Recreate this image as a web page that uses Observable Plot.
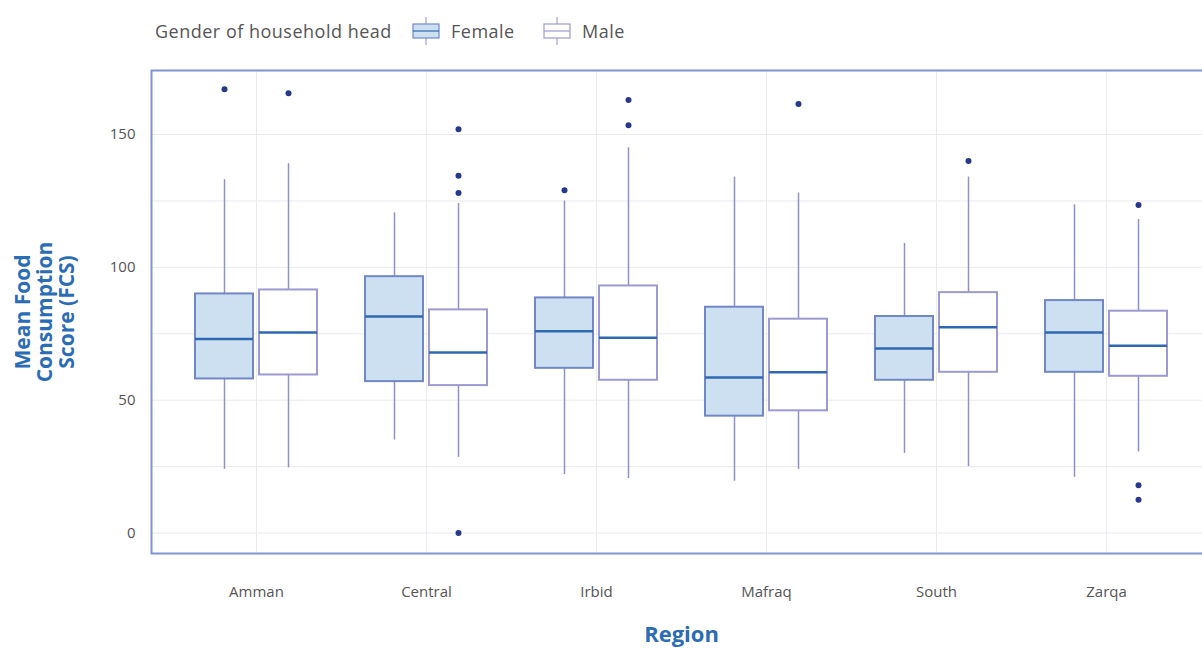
<!DOCTYPE html>
<html>
<head>
<meta charset="utf-8">
<script src="https://cdn.jsdelivr.net/npm/d3@7"></script>
<script src="https://cdn.jsdelivr.net/npm/@observablehq/plot@0.6"></script>
<style>
  html, body { margin: 0; padding: 0; background: #fff; overflow: hidden; }
  body { width: 1202px; height: 648px; font-family: "Open Sans", sans-serif; }
  #legend { position: relative; height: 55px; }
  #legend .item { position: absolute; top: 17px; display: flex; align-items: center; font-size: 18px; letter-spacing: 0.5px; color: #555; height: 28px; }
  #legend svg { display: block; }
</style>
</head>
<body>
<div id="legend"></div>
<div id="chart"></div>
<script>
// ---- data ----
const regions = ["Amman", "Central", "Irbid", "Mafraq", "South", "Zarqa"];
const genders = ["Female", "Male"];

// five-number summaries per region (lower whisker, Q1, median, Q3, upper whisker)
const femaleLow    = [24.0, 35.0, 22.0, 19.5, 30.0, 21.0];
const femaleQ1     = [58.0, 57.0, 62.0, 44.0, 57.5, 60.5];
const femaleMedian = [73.0, 81.5, 76.0, 58.5, 69.5, 75.5];
const femaleQ3     = [90.0, 96.5, 88.5, 85.0, 81.5, 87.5];
const femaleHigh   = [133.0, 120.5, 125.0, 134.0, 109.0, 123.5];

const maleLow    = [24.5, 28.5, 20.5, 24.0, 25.0, 30.5];
const maleQ1     = [59.5, 55.5, 57.5, 46.0, 60.5, 59.0];
const maleMedian = [75.5, 68.0, 73.5, 60.5, 77.5, 70.5];
const maleQ3     = [91.5, 84.0, 93.0, 80.5, 90.5, 83.5];
const maleHigh   = [139.0, 124.0, 145.0, 128.0, 134.0, 118.0];

// outliers
const outlierRegion = ["Amman", "Irbid", "Amman", "Central", "Central", "Central", "Central", "Irbid", "Irbid", "Mafraq", "South", "Zarqa", "Zarqa", "Zarqa"];
const outlierGender = ["Female", "Female", "Male", "Male", "Male", "Male", "Male", "Male", "Male", "Male", "Male", "Male", "Male", "Male"];
const outlierValue  = [167, 129, 165.5, 152, 134.5, 128, 0, 163, 153.5, 161.5, 140, 123.5, 18, 12.5];

const yTicks = [0, 50, 100, 150];
const yGrid = [0, 25, 50, 75, 100, 125, 150];

// ---- tables built from the arrays ----
const summary = [];
regions.forEach((r, i) => {
  summary.push({region: r, gender: "Female", lo: femaleLow[i], q1: femaleQ1[i], med: femaleMedian[i], q3: femaleQ3[i], hi: femaleHigh[i]});
  summary.push({region: r, gender: "Male", lo: maleLow[i], q1: maleQ1[i], med: maleMedian[i], q3: maleQ3[i], hi: maleHigh[i]});
});
const outliers = outlierValue.map((v, i) => ({region: outlierRegion[i], gender: outlierGender[i], value: v}));

// ---- styles ----
const style = {
  Female: {fill: "#cde0f2", stroke: "#7287c6", dx: -32},
  Male:   {fill: "#ffffff", stroke: "#9c9ad0", dx: 32}
};
const whiskerColor = "#8f90c8";
const medianColor = "#2f69b2";
const dotColor = "#27388a";
const titleColor = "#2b6cb5";

function boxMarks(g) {
  const s = style[g];
  const d = summary.filter(e => e.gender === g);
  const o = outliers.filter(e => e.gender === g);
  return [
    Plot.ruleX(d, {x: "region", y1: "lo", y2: "q1", dx: s.dx, stroke: whiskerColor, strokeWidth: 1.5}),
    Plot.ruleX(d, {x: "region", y1: "q3", y2: "hi", dx: s.dx, stroke: whiskerColor, strokeWidth: 1.5}),
    Plot.barY(d, {x: "region", y1: "q1", y2: "q3", dx: s.dx, fill: s.fill, stroke: s.stroke, strokeWidth: 2}),
    Plot.tickY(d, {x: "region", y: "med", dx: s.dx, stroke: medianColor, strokeWidth: 2.5}),
    Plot.dot(o, {x: "region", y: "value", dx: s.dx, r: 3, fill: dotColor, stroke: "none"})
  ];
}

const chart = Plot.plot({
  width: 1202,
  height: 593,
  marginLeft: 151,
  marginRight: -9,
  marginTop: 15,
  marginBottom: 95,
  style: {fontFamily: "Open Sans, sans-serif", fontSize: "13px", color: "#555", background: "#fff"},
  x: {type: "band", domain: regions, paddingInner: 0.661, paddingOuter: 0.43, label: null},
  y: {domain: [-7.7, 174.1], label: null},
  marks: [
    Plot.gridY(yGrid, {stroke: "#e9e9f0", strokeOpacity: 1, strokeWidth: 1}),
    Plot.gridX({stroke: "#e9e9f0", strokeOpacity: 1, strokeWidth: 1}),
    ...boxMarks("Female"),
    ...boxMarks("Male"),
    Plot.frame({stroke: "#8094d0", strokeWidth: 2}),
    Plot.axisX({tickSize: 0, tickPadding: 33, fontSize: 15, fill: "#555", label: null}),
    Plot.axisY({ticks: yTicks, tickSize: 0, tickPadding: 16, fontSize: 15, fill: "#555", label: null}),
    Plot.text(["Region"], {frameAnchor: "bottom", dy: 88, fontSize: 22, fontWeight: "bold", fill: titleColor}),
    Plot.text(["Mean Food\nConsumption\nScore (FCS)"], {frameAnchor: "left", textAnchor: "middle", lineAnchor: "middle", dx: -107, rotate: -90, fontSize: 21, fontWeight: "bold", fill: titleColor, lineHeight: 1.05})
  ]
});
document.getElementById("chart").appendChild(chart);

// ---- legend (HTML + small SVG swatches) ----
const legend = document.getElementById("legend");
const title = document.createElement("div");
title.className = "item";
title.style.left = "155px";
title.textContent = "Gender of household head";
legend.appendChild(title);
const legendLeft = {Female: 410, Male: 541};
genders.forEach(g => {
  const item = document.createElement("div");
  item.className = "item";
  item.style.left = legendLeft[g] + "px";
  const ns = "http://www.w3.org/2000/svg";
  const sv = document.createElementNS(ns, "svg");
  sv.setAttribute("width", "32"); sv.setAttribute("height", "28");
  sv.innerHTML =
    `<line x1="16" x2="16" y1="0" y2="28" stroke="${whiskerColor}" stroke-width="1"/>` +
    `<rect x="3" y="7" width="26" height="14" fill="${style[g].fill}" stroke="${style[g].stroke}" stroke-width="1.2"/>` +
    `<line x1="3" x2="29" y1="14" y2="14" stroke="${g === "Female" ? medianColor : style[g].stroke}" stroke-width="1.2"/>`;
  item.appendChild(sv);
  const t = document.createElement("span");
  t.textContent = g;
  t.style.marginLeft = "9px";
  item.appendChild(t);
  legend.appendChild(item);
});
</script>
</body>
</html>
